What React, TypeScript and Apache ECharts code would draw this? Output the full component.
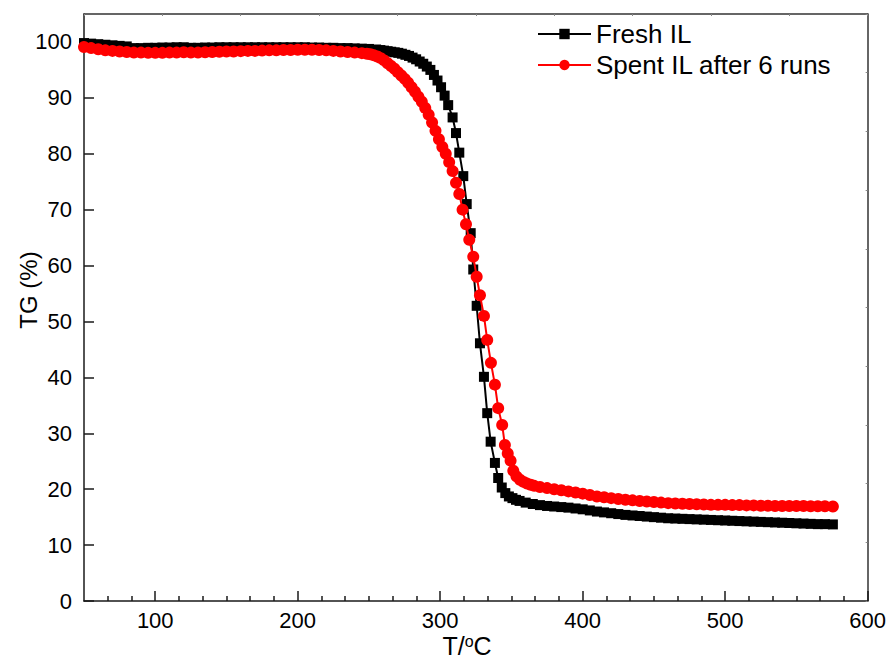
import React, { useEffect, useRef } from 'react';
import * as echarts from 'echarts';

// Fresh IL: [T (°C), TG (%)]
const freshIL: [number, number][] = [
  [50, 99.8], [55, 99.7], [60, 99.6], [65, 99.5], [70, 99.4], [75, 99.3], [80, 99.2], [85, 98.9],
  [90, 98.9], [95, 98.95], [100, 98.95], [105, 99.0], [110, 99.0], [115, 99.05], [120, 99.05], [125, 98.95],
  [130, 98.95], [135, 99.0], [140, 99.0], [145, 99.05], [150, 99.05], [155, 99.05], [160, 99.05], [165, 99.05],
  [170, 99.05], [175, 99.05], [180, 99.05], [185, 99.05], [190, 99.05], [195, 99.05], [200, 99.05], [205, 99.05],
  [210, 99.0], [215, 99.0], [220, 98.95], [225, 98.95], [230, 98.9], [235, 98.9], [240, 98.85], [245, 98.8],
  [250, 98.75], [255, 98.65], [258, 98.55], [260.6, 98.45], [263.1, 98.35], [265.6, 98.25], [268.1, 98.15],
  [270.6, 98.05], [273.1, 97.9], [275.6, 97.7], [278.1, 97.5], [280.6, 97.2], [283.1, 96.9], [285.6, 96.5],
  [288.1, 96.1], [290.6, 95.6], [293.1, 95.0], [295.6, 94.1], [298.1, 93.1], [300.6, 91.9], [303.1, 90.4],
  [305.6, 88.7], [308.7, 86.5], [311.1, 83.7], [313.4, 80.2], [316.2, 76.0], [318.6, 71.0], [321.4, 65.8],
  [323.2, 59.3], [325.6, 52.8], [327.9, 46.1], [330.7, 40.1], [333.0, 33.6], [335.4, 28.5], [338.4, 24.7],
  [340.7, 22.0], [343.2, 20.3], [345.7, 19.3], [348.2, 18.7], [350.7, 18.4], [353.2, 18.1], [355.7, 17.9],
  [360, 17.6], [365, 17.35], [370, 17.15], [375, 17.0], [380, 16.9], [385, 16.8], [390, 16.7], [395, 16.55],
  [400, 16.4], [405, 16.2], [410, 16.0], [415, 15.85], [420, 15.7], [425, 15.55], [430, 15.4], [435, 15.3],
  [440, 15.2], [445, 15.1], [450, 15.0], [455, 14.9], [460, 14.8], [465, 14.75], [470, 14.7], [475, 14.65],
  [480, 14.6], [485, 14.55], [490, 14.5], [495, 14.45], [500, 14.4], [505, 14.35], [510, 14.3], [515, 14.25],
  [520, 14.2], [525, 14.15], [530, 14.1], [535, 14.05], [540, 14.0], [545, 13.95], [550, 13.9], [555, 13.85],
  [560, 13.8], [565, 13.75], [570, 13.75], [575.6, 13.7],
];

// Spent IL after 6 runs: [T (°C), TG (%)]
const spentIL: [number, number][] = [
  [50, 99.1], [55, 98.9], [60, 98.7], [65, 98.5], [70, 98.4], [75, 98.3], [80, 98.2], [85, 98.1],
  [90, 98.1], [95, 98.05], [100, 98.05], [105, 98.05], [110, 98.1], [115, 98.1], [120, 98.15], [125, 98.1],
  [130, 98.1], [135, 98.15], [140, 98.2], [145, 98.25], [150, 98.3], [155, 98.3], [160, 98.35], [165, 98.4],
  [170, 98.4], [175, 98.45], [180, 98.5], [185, 98.5], [190, 98.55], [195, 98.55], [200, 98.6], [205, 98.6],
  [210, 98.6], [215, 98.55], [220, 98.5], [225, 98.4], [230, 98.3], [235, 98.2], [240, 98.1], [245, 98.0],
  [248.6, 97.9], [251, 97.8], [253.5, 97.6], [255.9, 97.4], [258.3, 97.1], [260.7, 96.7], [263.1, 96.2],
  [265.5, 95.7], [267.9, 95.2], [270.3, 94.6], [272.7, 94.0], [275.1, 93.4], [277.5, 92.7], [279.9, 91.9],
  [282.3, 91.1], [284.7, 90.2], [287.1, 89.3], [289.5, 88.2], [291.9, 87.0], [294.3, 85.6], [296.7, 84.1],
  [299.1, 82.6], [301.5, 81.2], [303.9, 80.0], [306.3, 78.5], [308.7, 76.9], [311.1, 74.8], [313.4, 72.8],
  [315.7, 70.0], [318.1, 67.4], [320.4, 64.6], [323.2, 61.6], [325.6, 58.0], [327.9, 54.7], [330.7, 51.0],
  [333.0, 46.7], [335.6, 42.6], [338.4, 38.7], [340.7, 34.5], [343.5, 31.5], [345.4, 27.9], [347.4, 26.4],
  [349.4, 25.1], [351.3, 23.3], [353.5, 22.3], [356, 21.7], [358.5, 21.3], [361, 21.0], [363.5, 20.8],
  [366, 20.6], [370, 20.4], [375, 20.2], [380, 20.0], [385, 19.8], [390, 19.6], [395, 19.4], [400, 19.2],
  [405, 18.95], [410, 18.7], [415, 18.55], [420, 18.4], [425, 18.25], [430, 18.1], [435, 18.0], [440, 17.9],
  [445, 17.8], [450, 17.7], [455, 17.6], [460, 17.5], [465, 17.45], [470, 17.4], [475, 17.35], [480, 17.3],
  [485, 17.25], [490, 17.2], [495, 17.2], [500, 17.2], [505, 17.15], [510, 17.15], [515, 17.1], [520, 17.1],
  [525, 17.05], [530, 17.05], [535, 17.0], [540, 17.0], [545, 17.0], [550, 17.0], [555, 17.0], [560, 16.95],
  [565, 16.95], [570, 16.95], [575.6, 16.9],
];

const seriesNames = ['Fresh IL', 'Spent IL after 6 runs'];
const xMajorTicks = [100, 200, 300, 400, 500, 600];
const yMajorTicks = [0, 10, 20, 30, 40, 50, 60, 70, 80, 90, 100];
const xRange = [50, 600];
const yRange = [0, 105];

const FONT = '"Liberation Sans", Arial, Helvetica, sans-serif';

export default function App() {
  const ref = useRef<HTMLDivElement>(null);

  useEffect(() => {
    if (!ref.current) return;
    const chart = echarts.init(ref.current, null, { renderer: 'svg' });

    // minor ticks: 5 per 100 °C interval, starting from the axis minimum
    const minorStep = 100 / 6;
    const xMinorTicks: number[] = [];
    for (let k = 1; k * minorStep + xRange[0] < xRange[1] - 1e-6; k++) {
      const v = xRange[0] + k * minorStep;
      if (Math.abs(v / 100 - Math.round(v / 100)) > 1e-6) xMinorTicks.push(v);
    }

    const axisColor = '#1a1a1a';
    const option: any = {
      animation: false,
      backgroundColor: '#ffffff',
      grid: { left: 84, right: 21, top: 14, bottom: 59, containLabel: false },
      legend: {
        orient: 'vertical',
        left: 537,
        top: 21,
        padding: 0,
        itemWidth: 53,
        itemHeight: 13,
        itemGap: 5,
        textStyle: { fontSize: 26, fontFamily: FONT, color: '#000' },
        data: seriesNames,
      },
      xAxis: [
        {
          type: 'value',
          min: xRange[0],
          max: xRange[1],
          position: 'bottom',
          axisLine: { show: true, onZero: false, lineStyle: { color: axisColor, width: 1.5 } },
          axisTick: { show: true, inside: true, length: 10, customValues: xMajorTicks, lineStyle: { color: axisColor, width: 1.5 } },
          axisLabel: { show: true, customValues: xMajorTicks, margin: 8, fontSize: 22, fontFamily: FONT, color: '#000' },
          splitLine: { show: false },
        },
        {
          type: 'value',
          min: xRange[0],
          max: xRange[1],
          position: 'bottom',
          axisLine: { show: false, onZero: false },
          axisTick: { show: true, inside: true, length: 5, customValues: xMinorTicks, lineStyle: { color: axisColor, width: 1.5 } },
          axisLabel: { show: false },
          splitLine: { show: false },
        },
        {
          type: 'value',
          min: 0,
          max: 10,
          interval: 1,
          position: 'top',
          axisLine: { show: true, onZero: false, lineStyle: { color: '#333', width: 1.5 } },
          axisTick: { show: true, inside: true, length: 2, lineStyle: { color: '#888', width: 1 } },
          axisLabel: { show: false },
          splitLine: { show: false },
        },
      ],
      yAxis: [
        {
          type: 'value',
          min: yRange[0],
          max: yRange[1],
          position: 'left',
          axisLine: { show: true, onZero: false, lineStyle: { color: axisColor, width: 1.5 } },
          axisTick: { show: true, inside: true, length: 10, customValues: yMajorTicks, lineStyle: { color: axisColor, width: 1.5 } },
          axisLabel: { show: true, customValues: yMajorTicks, margin: 12, fontSize: 22, fontFamily: FONT, color: '#000' },
          splitLine: { show: false },
        },
        {
          type: 'value',
          min: 0,
          max: 10,
          interval: 1,
          position: 'right',
          axisLine: { show: true, onZero: false, lineStyle: { color: '#333', width: 1.5 } },
          axisTick: { show: true, inside: true, length: 2, lineStyle: { color: '#888', width: 1 } },
          axisLabel: { show: false },
          splitLine: { show: false },
        },
      ],
      series: [
        {
          name: seriesNames[0],
          type: 'line',
          xAxisIndex: 0,
          yAxisIndex: 0,
          data: freshIL,
          symbol: 'rect',
          symbolSize: 10,
          showSymbol: true,
          showAllSymbol: true,
          color: '#000000',
          itemStyle: { color: '#000000' },
          lineStyle: { color: '#000000', width: 2 },
          z: 2,
        },
        {
          name: seriesNames[1],
          type: 'line',
          xAxisIndex: 0,
          yAxisIndex: 0,
          data: spentIL,
          symbol: 'circle',
          symbolSize: 12,
          showSymbol: true,
          showAllSymbol: true,
          color: '#ff0000',
          itemStyle: { color: '#ff0000' },
          lineStyle: { color: '#ff0000', width: 2 },
          z: 3,
        },
      ],
      graphic: [
        {
          type: 'text',
          x: 28,
          y: 290,
          rotation: Math.PI / 2,
          style: {
            text: 'TG (%)',
            fontSize: 24,
            fontFamily: FONT,
            fill: '#000',
            align: 'center',
            verticalAlign: 'middle',
          },
        },
        {
          type: 'text',
          x: 467,
          y: 646,
          style: {
            text: '{a|T/}{s|o}{a|C}',
            align: 'center',
            verticalAlign: 'middle',
            rich: {
              a: { fontSize: 25, fontFamily: FONT, fill: '#000', color: '#000', lineHeight: 25 },
              s: { fontSize: 16, fontFamily: FONT, fill: '#000', color: '#000', verticalAlign: 'top', lineHeight: 16 },
            },
          },
        },
      ],
    };

    chart.setOption(option);
    return () => chart.dispose();
  }, []);

  return (
    <div
      ref={ref}
      style={{ position: 'absolute', left: 0, top: 0, width: 889, height: 660, background: '#fff' }}
    />
  );
}
